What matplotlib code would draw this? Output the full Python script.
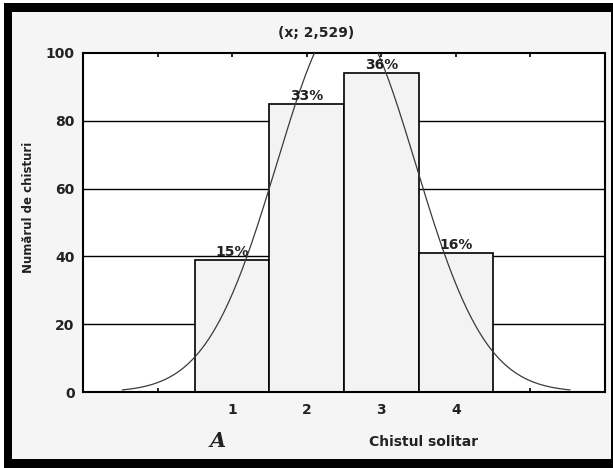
import matplotlib
matplotlib.use("Agg")
import matplotlib.pyplot as plt
import numpy as np
from matplotlib.patches import Rectangle

# chist counts per category
categories = [1, 2, 3, 4]
counts = [39, 85, 94, 41]
percent_labels = ["15%", "33%", "36%", "16%"]

plt.rcParams['font.family'] = ['DejaVu Sans']
plt.rcParams['font.weight'] = 'bold'
plt.rcParams['text.color'] = '#222222'

fig = plt.figure(figsize=(6.13, 4.68), dpi=100)
fig.patch.set_facecolor('white')

# scanned-looking frame around the figure
W, H = 613, 468
fig.patches.append(Rectangle((4 / W, 0), (W - 4) / W, (H - 3) / H,
                             transform=fig.transFigure, facecolor='black',
                             edgecolor='none', zorder=-10))
fig.patches.append(Rectangle((12 / W, 9 / H), (611 - 12) / W, (459 - 12) / H,
                             transform=fig.transFigure, facecolor='#f5f5f5',
                             edgecolor='none', zorder=-9))

ax = fig.add_axes([83 / W, 76 / H, 522 / W, 339 / H])
ax.set_facecolor('white')

for y in [20, 40, 60, 80]:
    ax.axhline(y, color='black', lw=1.0, zorder=1)

ax.bar(categories, counts, width=1.0, color='#f3f3f3', edgecolor='black',
       linewidth=1.2, zorder=2)

for x, c, lab in zip(categories, counts, percent_labels):
    ax.text(x, c + 0.3, lab, ha='center', va='bottom', fontsize=10, zorder=4)

# expected normal curve
vals = np.repeat(categories, counts)
mu = vals.mean()
sd = vals.std()
xs = np.linspace(mu - 3, mu + 3, 300)
ys = len(vals) * np.exp(-0.5 * ((xs - mu) / sd) ** 2) / (sd * np.sqrt(2 * np.pi))
ax.plot(xs, ys, color='#3a3a3a', lw=0.9, zorder=3)

ax.set_xlim(-1, 6)
ax.set_ylim(0, 100)
ax.set_xticks([0, 1, 2, 3, 4, 5])
ax.set_xticklabels(['', '1', '2', '3', '4', ''])
ax.set_yticks([0, 20, 40, 60, 80, 100])
ax.tick_params(axis='x', direction='in', top=True, length=3, width=1.2,
               pad=8, labelsize=10, labelcolor='#222222')
ax.tick_params(axis='y', length=0, pad=6, labelsize=10, labelcolor='#222222')
for s in ax.spines.values():
    s.set_linewidth(1.5)

fig.text(29 / W, 1 - 207 / H, 'Numărul de chisturi', rotation=90,
         ha='center', va='center', fontsize=8.5)
fig.text(316 / W, 1 - 33 / H, '(x; 2,529)', ha='center', va='center', fontsize=10)
fig.text(424 / W, 1 - 442 / H, 'Chistul solitar', ha='center', va='center', fontsize=10)
fig.text(218 / W, 1 - 441 / H, 'A', ha='center', va='center', fontsize=15,
         family='DejaVu Serif', style='italic', weight='bold')

fig.savefig('out.png', dpi=100, facecolor=fig.get_facecolor())
